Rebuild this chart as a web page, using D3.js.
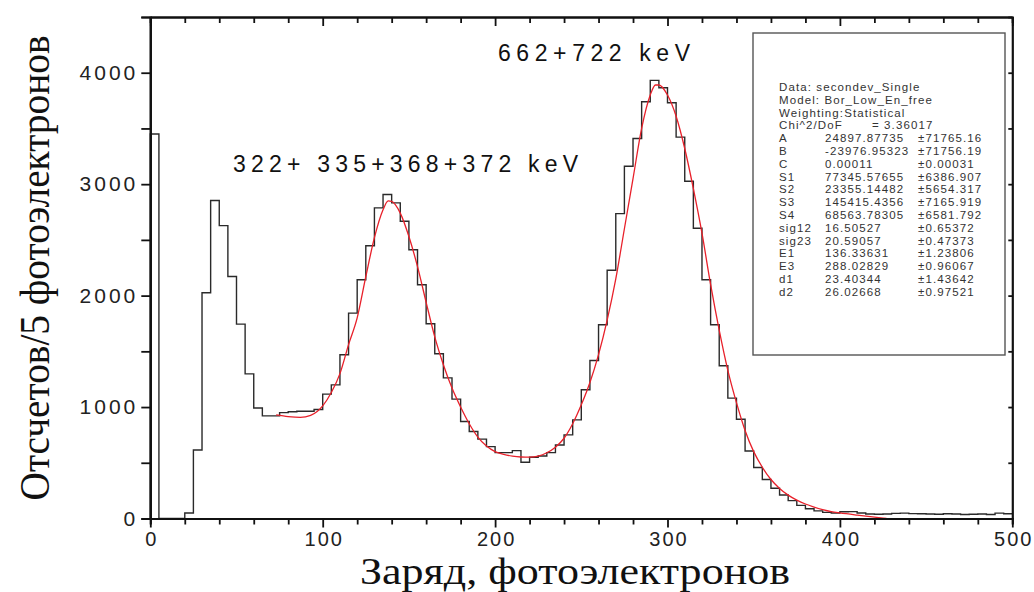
<!DOCTYPE html>
<html>
<head>
<meta charset="utf-8">
<script src="https://cdn.jsdelivr.net/npm/d3@7"></script>
<style>
  body { margin: 0; background: #fff; }
  svg { display: block; }
</style>
</head>
<body>
<div id="chart"></div>
<script>
// Histogram: counts per 5-photoelectron bin, starting at 0
const binWidth = 5;
const counts = [
  3450, 0, 0, 0, 50, 615, 2026, 2853, 2628, 2172,
  1744, 1298, 992, 921, 921, 950, 958, 962, 962, 978,
  1116, 1199, 1469, 1843, 2143, 2448, 2787, 2907, 2832, 2667,
  2412, 2098, 1748, 1478, 1262, 1071, 870, 780, 712, 645,
  591, 591, 609, 505, 550, 561, 591, 660, 750, 885,
  1155, 1418, 1739, 2227, 2736, 3161, 3410, 3739, 3931, 3865,
  3730, 3422, 3026, 2604, 2143, 1739, 1370, 1080, 891, 606,
  457, 350, 271, 211, 160, 118, 88, 68, 55, 50,
  60, 62, 50, 40, 38, 40, 46, 48, 44, 42,
  40, 38, 42, 40, 36, 38, 40, 36, 48, 42
];

// Fit curve
const fitX = [73, 80, 87, 93, 100, 105, 110, 115, 120, 125, 130, 135, 138, 140, 145, 150, 155, 160, 165, 170,
  175, 180, 185, 190, 195, 200, 205, 210, 215, 220, 225, 230, 235, 240, 245, 250, 255, 260, 265, 270,
  275, 280, 285, 290, 293, 295, 300, 305, 310, 315, 320, 325, 330, 335, 340, 345, 350, 355, 360, 365,
  370, 375, 380, 385, 390, 395, 400, 410, 420, 427];
const fitY = [930, 915, 908, 925, 1010, 1130, 1300, 1560, 1800, 2170, 2520, 2770, 2850, 2845, 2740, 2530, 2260, 1940, 1630, 1380,
  1170, 1000, 850, 730, 650, 600, 575, 560, 552, 550, 560, 590, 640, 720, 850, 1020, 1220, 1470, 1780, 2150,
  2600, 3050, 3500, 3800, 3890, 3890, 3800, 3610, 3320, 2960, 2560, 2100, 1690, 1330, 1040, 790, 600, 460, 350, 270,
  210, 165, 130, 103, 80, 62, 50, 30, 12, 0];

const xTicks = [0, 100, 200, 300, 400, 500];
const yTicks = [0, 1000, 2000, 3000, 4000];

const peakLabels = [
  { text: "322+ 335+368+372 keV", x: 233, y: 172, len: 345 },
  { text: "662+722 keV", x: 498, y: 61, len: 192 }
];

const fitInfo = ["Data: secondev_Single", "Model: Bor_Low_En_free", "Weighting:Statistical"];
const chiLabel = ["Chi^2/DoF", "= 3.36017"];
const paramNames = ["A", "B", "C", "S1", "S2", "S3", "S4", "sig12", "sig23", "E1", "E3", "d1", "d2"];
const paramValues = ["24897.87735", "-23976.95323", "0.00011", "77345.57655", "23355.14482", "145415.4356",
  "68563.78305", "16.50527", "20.59057", "136.33631", "288.02829", "23.40344", "26.02668"];
const paramErrors = ["±71765.16", "±71756.19", "±0.00031", "±6386.907", "±5654.317", "±7165.919",
  "±6581.792", "±0.65372", "±0.47373", "±1.23806", "±0.96067", "±1.43642", "±0.97521"];

const width = 1034, height = 592;
const plot = { left: 150.3, right: 1012.3, top: 17, bottom: 518.5 };

const svg = d3.select("#chart").append("svg")
  .attr("width", width)
  .attr("height", height);

const x = d3.scaleLinear().domain([0, 500]).range([plot.left, plot.right]);
const y = d3.scaleLinear().domain([0, 4500]).range([plot.bottom, plot.top]);

const sans = "'Liberation Sans', Arial, sans-serif";
const serif = "'Liberation Serif', 'Times New Roman', serif";
const tickSpacing = 3;

// histogram as a step line
const histPts = counts.map((c, i) => [i * binWidth, c]);
histPts.push([counts.length * binWidth, counts[counts.length - 1]]);
histPts.unshift([0, 0]);

svg.append("path")
  .datum(histPts)
  .attr("fill", "none")
  .attr("stroke", "#2a2a2a")
  .attr("stroke-width", 1.4)
  .attr("d", d3.line().x(d => x(d[0])).y(d => y(d[1])).curve(d3.curveStepAfter));

// fit curve
const fitPts = fitX.map((v, i) => [v, fitY[i]]);
svg.append("path")
  .datum(fitPts)
  .attr("fill", "none")
  .attr("stroke", "#e8202a")
  .attr("stroke-width", 1.3)
  .attr("d", d3.line().x(d => x(d[0])).y(d => y(d[1])).curve(d3.curveMonotoneX));

// axes
function styleAxis(g) {
  g.select(".domain").attr("stroke", "#111").attr("stroke-width", 2.2);
  g.selectAll(".tick line").attr("stroke", "#111").attr("stroke-width", 1.8);
  g.selectAll("text")
    .attr("font-family", sans)
    .attr("font-size", 21)
    .attr("letter-spacing", tickSpacing)
    .attr("fill", "#222");
}

const minorX = d3.range(0, 501, 20).filter(v => v % 100 !== 0);
const minorY = [500, 1500, 2500, 3500, 4500];

// bottom
svg.append("g")
  .attr("transform", `translate(0,${plot.bottom})`)
  .call(d3.axisBottom(x).tickValues(minorX).tickSize(6).tickFormat(""))
  .call(styleAxis);
svg.append("g")
  .attr("transform", `translate(0,${plot.bottom})`)
  .call(d3.axisBottom(x).tickValues(xTicks).tickSize(9).tickSizeOuter(0).tickPadding(4).tickFormat(d3.format("d")))
  .call(styleAxis)
  .call(g => g.selectAll("text").attr("font-size", 20).attr("letter-spacing", 2).attr("dx", 1));

// top
svg.append("g")
  .attr("transform", `translate(0,${plot.top})`)
  .call(d3.axisBottom(x).tickValues(minorX).tickSize(6).tickFormat(""))
  .call(styleAxis);
svg.append("g")
  .attr("transform", `translate(0,${plot.top})`)
  .call(d3.axisBottom(x).tickValues(xTicks).tickSize(9).tickSizeOuter(0).tickFormat(""))
  .call(styleAxis);

// left
svg.append("g")
  .attr("transform", `translate(${plot.left},0)`)
  .call(d3.axisLeft(y).tickValues(minorY).tickSize(9).tickFormat(""))
  .call(styleAxis);
svg.append("g")
  .attr("transform", `translate(${plot.left},0)`)
  .call(d3.axisLeft(y).tickValues(yTicks).tickSize(9).tickSizeOuter(0).tickPadding(6).tickFormat(d3.format("d")))
  .call(styleAxis)
  .call(g => g.selectAll("text").attr("dx", tickSpacing));

// right
svg.append("g")
  .attr("transform", `translate(${plot.right},0)`)
  .call(d3.axisLeft(y).tickValues(yTicks.concat(minorY)).tickSize(4).tickSizeOuter(0).tickFormat(""))
  .call(styleAxis);

// peak annotations
svg.selectAll(".peak")
  .data(peakLabels)
  .enter().append("text")
  .attr("class", "peak")
  .attr("x", d => d.x)
  .attr("y", d => d.y)
  .attr("textLength", d => d.len)
  .attr("lengthAdjust", "spacing")
  .attr("font-family", sans)
  .attr("font-size", 23)
  .attr("fill", "#111")
  .text(d => d.text);

// fit parameter box
const box = svg.append("g").attr("transform", "translate(753,33)");
box.append("rect")
  .attr("width", 252).attr("height", 322)
  .attr("fill", "#fff")
  .attr("stroke", "#555").attr("stroke-width", 1.4);

const rowH = 12.8, row0 = 58;
const boxText = (sel) => sel
  .attr("font-family", sans)
  .attr("font-size", 11.5)
  .attr("letter-spacing", 1.1)
  .attr("fill", "#333");

box.selectAll(".info").data(fitInfo).enter().append("text")
  .attr("x", 26).attr("y", (d, i) => row0 + i * rowH)
  .call(boxText).text(d => d);

box.append("text").attr("x", 26).attr("y", row0 + 3 * rowH).call(boxText).text(chiLabel[0]);
box.append("text").attr("x", 119).attr("y", row0 + 3 * rowH).call(boxText).text(chiLabel[1]);

const rows = box.selectAll(".param").data(paramNames).enter().append("g")
  .attr("transform", (d, i) => `translate(0,${row0 + (i + 4) * rowH})`);
rows.append("text").attr("x", 26).call(boxText).text(d => d);
rows.append("text").attr("x", 72).call(boxText).text((d, i) => paramValues[i]);
rows.append("text").attr("x", 165).call(boxText).text((d, i) => paramErrors[i]);

// axis titles
svg.append("text")
  .attr("x", 575).attr("y", 584)
  .attr("text-anchor", "middle")
  .attr("textLength", 430).attr("lengthAdjust", "spacingAndGlyphs")
  .attr("font-family", serif).attr("font-size", 38)
  .attr("fill", "#111")
  .text("Заряд, фотоэлектронов");

svg.append("text")
  .attr("transform", "translate(49,268) rotate(-90)")
  .attr("text-anchor", "middle")
  .attr("textLength", 465).attr("lengthAdjust", "spacingAndGlyphs")
  .attr("font-family", serif).attr("font-size", 42)
  .attr("fill", "#111")
  .text("Отсчетов/5 фотоэлектронов");
</script>
</body>
</html>
